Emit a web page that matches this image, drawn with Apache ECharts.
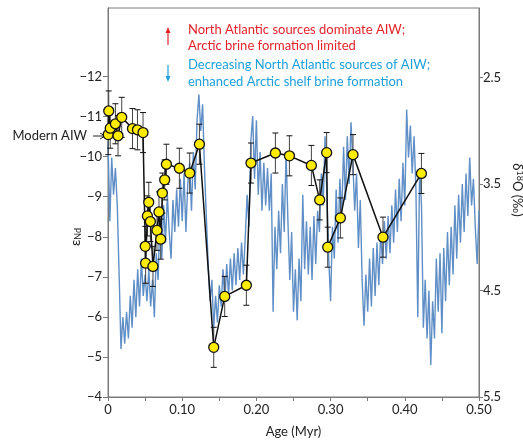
<!DOCTYPE html>
<html>
<head>
<meta charset="utf-8">
<style>
  html, body { margin: 0; padding: 0; background: #fff; }
  #chart { width: 523px; height: 443px; }
</style>
<script src="https://cdn.jsdelivr.net/npm/echarts@6/dist/echarts.min.js"></script>
</head>
<body>
<div id="chart"></div>
<script>
// εNd record: age (Myr), εNd value, 2σ uncertainty
var ndAge = [0.0003, 0.0010, 0.0030, 0.0100, 0.0135, 0.0185, 0.0330, 0.0397, 0.0472,
  0.0502, 0.0507, 0.0531, 0.0549, 0.0571, 0.0606, 0.0660, 0.0687, 0.0710, 0.0733,
  0.0764, 0.0787, 0.0962, 0.1101, 0.1232, 0.1425, 0.1573, 0.1865, 0.1927, 0.2256,
  0.2445, 0.2741, 0.2853, 0.2947, 0.2961, 0.3132, 0.3302, 0.3706, 0.4224];
var ndValue = [-10.55, -11.14, -10.71, -10.82, -10.52, -10.98, -10.70, -10.67, -10.60,
  -7.76, -7.34, -8.52, -8.86, -8.38, -7.26, -8.16, -8.62, -7.94, -9.09,
  -9.42, -9.81, -9.71, -9.59, -10.31, -5.24, -6.51, -6.79, -9.84, -10.09,
  -10.02, -9.78, -8.92, -10.10, -7.74, -8.47, -10.05, -7.99, -9.58];
var ndErr = [0.5, 0.5, 0.5, 0.5, 0.5, 0.5, 0.5, 0.5, 0.5,
  0.5, 0.5, 0.5, 0.5, 0.5, 0.5, 0.5, 0.5, 0.5, 0.5,
  0.5, 0.5, 0.5, 0.5, 0.5, 0.5, 0.5, 0.5, 0.5, 0.5,
  0.5, 0.5, 0.5, 0.5, 0.5, 0.5, 0.5, 0.5, 0.5];

// Benthic δ18O stack, 2.5 kyr steps from 0 to 0.5 Myr
var d18Step = 0.0025;
var d18Value = [
  3.10, 3.85, 3.25, 3.60, 3.35, 3.70, 4.35, 5.05, 4.75, 5.00,
  4.70, 4.95, 4.55, 4.85, 4.40, 4.75, 4.30, 4.65, 4.20, 4.55,
  4.35, 4.60, 4.30, 4.65, 4.40, 4.75, 4.15, 4.40, 3.80, 4.20,
  3.70, 4.05, 3.60, 3.95, 4.20, 3.65, 3.95, 3.55, 3.90, 3.45,
  3.85, 3.40, 3.95, 3.50, 3.30, 3.75, 3.20, 3.55, 2.90, 2.66,
  3.00, 2.75, 3.35, 3.80, 4.25, 4.60, 4.40, 4.85, 4.55, 4.80,
  4.45, 4.65, 4.30, 4.60, 4.25, 4.55, 4.20, 4.50, 4.15, 4.45,
  4.10, 4.40, 4.05, 4.35, 4.00, 3.60, 3.90, 3.10, 2.86, 3.45,
  2.90, 3.60, 3.20, 3.75, 3.30, 3.70, 3.35, 3.75, 3.40, 4.70,
  3.90, 4.30, 3.75, 4.15, 3.50, 3.95, 3.20, 3.85, 4.40, 3.95,
  4.70, 4.30, 4.78, 4.20, 4.60, 3.60, 4.30, 3.85, 4.35, 3.90,
  4.40, 3.80, 4.25, 3.75, 3.95, 3.40, 3.70, 3.05, 3.60, 4.20,
  4.60, 3.90, 4.20, 3.55, 4.05, 3.45, 3.80, 3.15, 3.65, 3.05,
  3.50, 2.92, 3.30, 3.75, 3.40, 4.10, 3.65, 4.40, 4.83, 4.35,
  4.70, 4.20, 4.65, 4.10, 4.55, 4.05, 4.45, 3.95, 4.25, 3.85,
  4.20, 3.80, 4.15, 3.70, 4.05, 3.55, 3.95, 3.45, 3.85, 3.30,
  3.70, 2.80, 3.25, 2.95, 3.40, 3.05, 3.55, 4.75, 3.35, 3.70,
  4.85, 4.40, 4.95, 4.50, 5.20, 4.60, 4.95, 4.20, 4.70, 4.15,
  4.90, 4.10, 4.60, 3.95, 4.45, 3.90, 4.35, 3.70, 4.20, 3.60,
  4.05, 3.50, 3.95, 3.40, 3.80, 3.25, 3.70, 3.45, 3.90, 4.25,
  3.75
];

var leftTicks = [-12, -11, -10, -9, -8, -7, -6, -5, -4];
var rightTicks = [2.5, 3.5, 4.5, 5.5];

var FONT = 'Lato';
var AXIS_GREY = '#7a7a7a';

var d18Data = d18Value.map(function (v, i) { return [+(i * d18Step).toFixed(4), v]; });
var ndData = ndAge.map(function (a, i) { return [a, ndValue[i]]; });
var errData = ndAge.map(function (a, i) { return [a, ndValue[i] - ndErr[i], ndValue[i] + ndErr[i]]; });

function minusSign(s) { return String(s).replace('-', '\u2212'); }

var chart = echarts.init(document.getElementById('chart'), null, { renderer: 'canvas' });

chart.setOption({
  animation: false,
  backgroundColor: '#fff',
  grid: {
    left: 108, right: 44, top: 8, bottom: 46,
    show: true, borderColor: AXIS_GREY, borderWidth: 1, backgroundColor: 'transparent'
  },
  xAxis: {
    type: 'value', min: 0, max: 0.5, interval: 0.05,
    axisLine: { lineStyle: { color: AXIS_GREY, width: 1 } },
    axisTick: { length: 4, lineStyle: { color: AXIS_GREY } },
    splitLine: { show: false },
    axisLabel: {
      color: '#222', fontFamily: FONT, fontSize: 13, margin: 6,
      formatter: function (v) {
        if (Math.abs(v * 10 - Math.round(v * 10)) > 1e-6) return '';
        return v === 0 ? '0' : v.toFixed(2);
      }
    },
    name: 'Age (Myr)', nameLocation: 'middle', nameGap: 28,
    nameTextStyle: { color: '#222', fontFamily: FONT, fontSize: 13 }
  },
  yAxis: [{
    type: 'value', inverse: true, min: -13.71, max: -4, position: 'left',
    axisLine: { show: true, lineStyle: { color: AXIS_GREY, width: 1 } },
    axisTick: { show: true, length: 5, customValues: leftTicks, lineStyle: { color: AXIS_GREY } },
    splitLine: { show: false },
    axisLabel: {
      customValues: leftTicks, color: '#222', fontFamily: FONT, fontSize: 13, margin: 6,
      formatter: function (v) { return minusSign(v); }
    }
  }, {
    type: 'value', inverse: true, min: 1.846, max: 5.5, position: 'right',
    axisLine: { show: true, lineStyle: { color: AXIS_GREY, width: 1 } },
    axisTick: { show: true, length: 4, customValues: rightTicks, lineStyle: { color: AXIS_GREY } },
    splitLine: { show: false },
    axisLabel: {
      customValues: rightTicks, color: '#222', fontFamily: FONT, fontSize: 13, margin: 4,
      formatter: function (v) { return v.toFixed(1); }
    }
  }],
  series: [{
    type: 'line', name: 'd18O', yAxisIndex: 1, data: d18Data,
    showSymbol: false, symbol: 'none',
    lineStyle: { color: '#5f8fc6', width: 1.4 },
    z: 1
  }, {
    type: 'custom', name: 'err', yAxisIndex: 0, data: errData,
    renderItem: function (params, api) {
      var x = api.value(0);
      var lo = api.coord([x, api.value(1)]);
      var hi = api.coord([x, api.value(2)]);
      var cap = 3;
      return {
        type: 'group',
        children: [
          { type: 'line', shape: { x1: lo[0], y1: lo[1], x2: hi[0], y2: hi[1] },
            style: { stroke: '#444', lineWidth: 1 } },
          { type: 'line', shape: { x1: lo[0] - cap, y1: lo[1], x2: lo[0] + cap, y2: lo[1] },
            style: { stroke: '#111', lineWidth: 1 } },
          { type: 'line', shape: { x1: hi[0] - cap, y1: hi[1], x2: hi[0] + cap, y2: hi[1] },
            style: { stroke: '#111', lineWidth: 1 } }
        ]
      };
    },
    z: 2
  }, {
    type: 'line', name: 'eNd', yAxisIndex: 0, data: ndData,
    symbol: 'circle', symbolSize: 10, showAllSymbol: true,
    lineStyle: { color: '#111', width: 1.5 },
    itemStyle: { color: '#ffec00', borderColor: '#111', borderWidth: 1.3 },
    z: 3
  }],
  graphic: [
    // axis titles
    { type: 'text', x: 75, y: 237, rotation: Math.PI / 2,
      style: { text: '{e|\u03b5}{s|Nd}', align: 'center', verticalAlign: 'middle',
        rich: { e: { fontFamily: FONT, fontSize: 14, fill: '#222' },
                s: { fontFamily: FONT, fontSize: 9, fill: '#222', padding: [6, 0, 0, 0] } } } },
    { type: 'text', x: 517, y: 190, rotation: -Math.PI / 2,
      style: { text: '{d|\u03b4}{s|18}{d|O (\u2030)}', align: 'center', verticalAlign: 'middle',
        rich: { d: { fontFamily: FONT, fontSize: 13, fill: '#222' },
                s: { fontFamily: FONT, fontSize: 9, fill: '#222', padding: [0, 0, 5, 0] } } } },
    // Modern AIW marker
    { type: 'text', x: 87, y: 136,
      style: { text: 'Modern AIW', align: 'right', verticalAlign: 'middle',
        fontFamily: FONT, fontSize: 13, fill: '#222' } },
    { type: 'line', shape: { x1: 93, y1: 136, x2: 103, y2: 136 }, style: { stroke: '#222', lineWidth: 1 } },
    { type: 'polyline', shape: { points: [[100, 133], [105, 136], [100, 139]] }, style: { stroke: '#222', lineWidth: 1, fill: null } },
    // red annotation
    { type: 'line', shape: { x1: 168, y1: 45, x2: 168, y2: 31 }, style: { stroke: '#e3242b', lineWidth: 1.2 } },
    { type: 'polygon', shape: { points: [[168, 27], [165.5, 33], [170.5, 33]] }, style: { fill: '#e3242b' } },
    { type: 'text', x: 188, y: 30,
      style: { text: 'North Atlantic sources dominate AIW;', verticalAlign: 'middle',
        fontFamily: FONT, fontSize: 13, fill: '#e3242b' } },
    { type: 'text', x: 188, y: 46,
      style: { text: 'Arctic brine formation limited', verticalAlign: 'middle',
        fontFamily: FONT, fontSize: 13, fill: '#e3242b' } },
    // blue annotation
    { type: 'line', shape: { x1: 168, y1: 65, x2: 168, y2: 78 }, style: { stroke: '#1e9fd9', lineWidth: 1.2 } },
    { type: 'polygon', shape: { points: [[168, 82], [165.5, 76], [170.5, 76]] }, style: { fill: '#1e9fd9' } },
    { type: 'text', x: 188, y: 65,
      style: { text: 'Decreasing North Atlantic sources of AIW;', verticalAlign: 'middle',
        fontFamily: FONT, fontSize: 13, fill: '#1e9fd9' } },
    { type: 'text', x: 188, y: 82,
      style: { text: 'enhanced Arctic shelf brine formation', verticalAlign: 'middle',
        fontFamily: FONT, fontSize: 13, fill: '#1e9fd9' } }
  ]
});
</script>
</body>
</html>
